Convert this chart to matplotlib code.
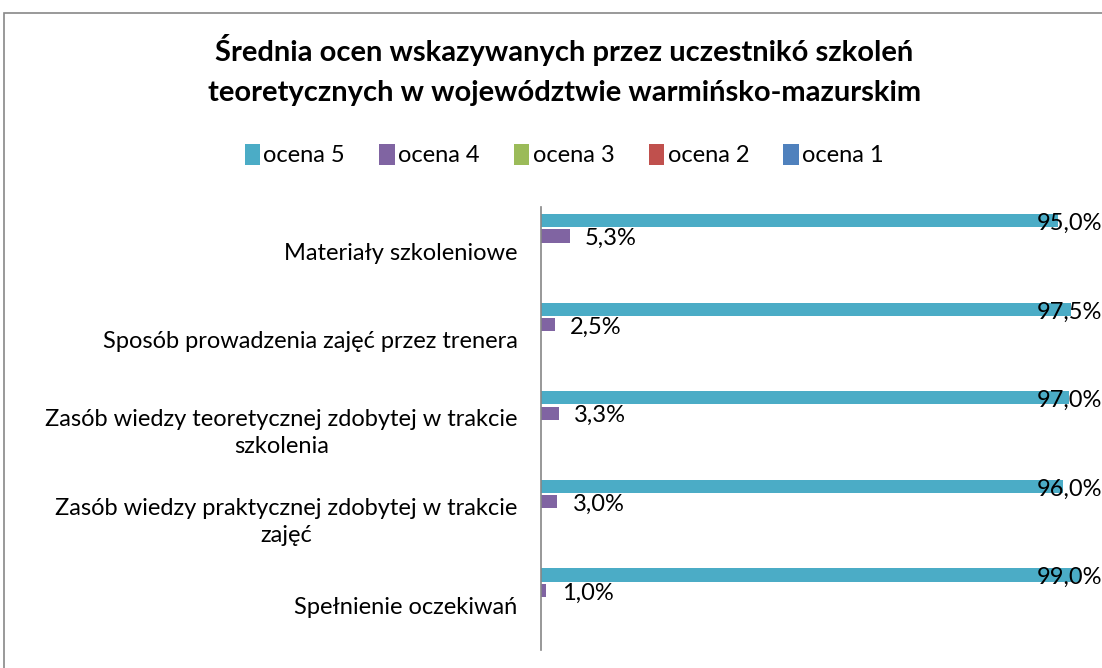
import numpy as np
import matplotlib
matplotlib.use("Agg")
import matplotlib.pyplot as plt
from matplotlib.patches import Rectangle

plt.rcParams['font.family'] = ['Lato', 'DejaVu Sans']

# data
categories = [
    "Materiały szkoleniowe",
    "Sposób prowadzenia zajęć przez trenera",
    "Zasób wiedzy teoretycznej zdobytej w trakcie\nszkolenia",
    "Zasób wiedzy praktycznej zdobytej w trakcie\nzajęć",
    "Spełnienie oczekiwań",
]
series_names = ["ocena 5", "ocena 4", "ocena 3", "ocena 2", "ocena 1"]
ocena5 = [95.0, 97.5, 97.0, 96.0, 99.0]
ocena4 = [5.3, 2.5, 3.3, 3.0, 1.0]
ocena3 = [0.0, 0.0, 0.0, 0.0, 0.0]
ocena2 = [0.0, 0.0, 0.0, 0.0, 0.0]
ocena1 = [0.0, 0.0, 0.0, 0.0, 0.0]
colors = ["#4BACC6", "#8064A2", "#9BBB59", "#C0504D", "#4F81BD"]

W, H = 1102, 668
fs = 17
fig = plt.figure(figsize=(W / 100, H / 100), dpi=100)

# chart border (cut by the image edges on right and bottom)
fig.patches.append(Rectangle((4 / W, -0.05), 1.2, 1 - 13 / H + 0.05,
                             transform=fig.transFigure, fill=False,
                             edgecolor="#888888", lw=1.2))

ax = fig.add_axes([541 / W, 18 / H, 544 / W, 443 / H])
ax.set_xlim(0, 100)

all_series = [ocena5, ocena4, ocena3, ocena2, ocena1]
n = len(all_series)
slot = 0.173
y = np.arange(len(categories))
for i, (vals, name, c) in enumerate(zip(all_series, series_names, colors)):
    pos = y + (i - (n - 1) / 2) * slot
    ax.barh(pos, vals, height=slot * 0.86, color=c, label=name)
    for p, v in zip(pos, vals):
        if v <= 0:
            continue
        lx = min(v + 2.8, 91.2)
        ax.text(lx, p + 0.03, f"{v:.1f}%".replace(".", ","), va="center",
                ha="left", fontsize=fs, color="black", clip_on=False)

ax.set_ylim(len(categories) - 0.5, -0.5)
ax.set_yticks(y)
ax.set_yticklabels(categories, fontsize=fs, multialignment="center",
                   linespacing=1.35)
ax.tick_params(axis="y", length=0, pad=17)
ax.set_xticks([])
for s in ["top", "right", "bottom"]:
    ax.spines[s].set_visible(False)
ax.spines["left"].set_color("#868686")
ax.spines["left"].set_linewidth(1.2)

fig.text(0.512, 1 - 50 / H, "Średnia ocen wskazywanych przez uczestnikó szkoleń",
         ha="center", va="center", fontsize=21, fontweight="bold")
fig.text(0.512, 1 - 93 / H, "teoretycznych w województwie warmińsko-mazurskim",
         ha="center", va="center", fontsize=21, fontweight="bold")

handles, labels = ax.get_legend_handles_labels()
fig.legend(handles, labels, loc="center", bbox_to_anchor=(0.512, 1 - 155 / H),
           ncol=5, frameon=False, fontsize=fs, handlelength=0.65,
           handleheight=1.0, handletextpad=0.15, columnspacing=1.45)

fig.savefig("out.png", dpi=100)
